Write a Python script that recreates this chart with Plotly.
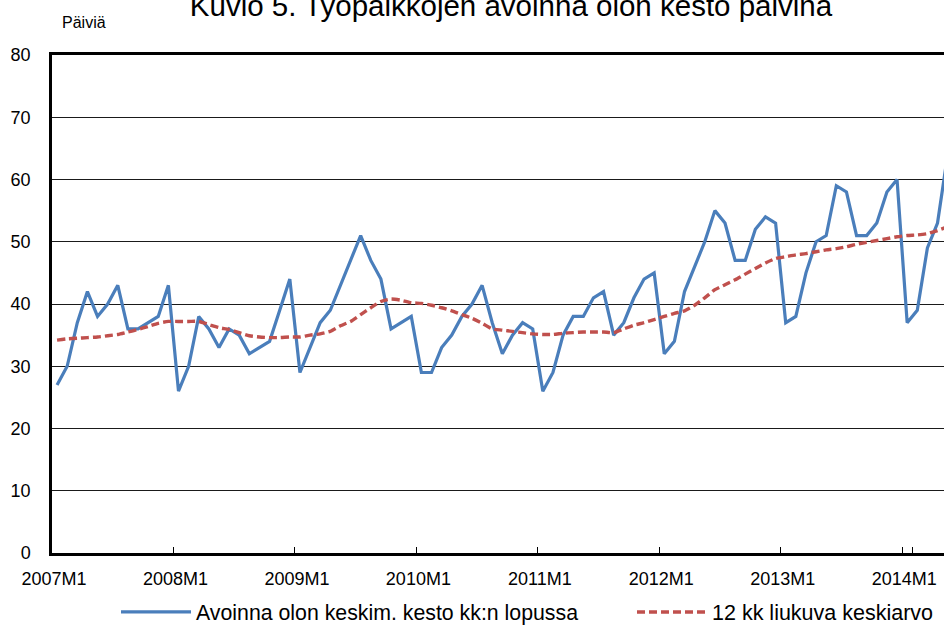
import plotly.graph_objects as go

months = [f"{y}M{m}" for y in range(2007, 2015) for m in range(1, 13)][:89]

duration = [27, 30, 37, 42, 38, 40, 43, 36, 36, 37, 38, 43,
            26, 30, 38, 36, 33, 36, 35, 32, 33, 34, 39, 44,
            29, 33, 37, 39, 43, 47, 51, 47, 44, 36, 37, 38,
            29, 29, 33, 35, 38, 40, 43, 37, 32, 35, 37, 36,
            26, 29, 35, 38, 38, 41, 42, 35, 37, 41, 44, 45,
            32, 34, 42, 46, 50, 55, 53, 47, 47, 52, 54, 53,
            37, 38, 45, 50, 51, 59, 58, 51, 51, 53, 58, 60,
            37, 39, 49, 53, 64]

moving_avg = [34.2, 34.4, 34.5, 34.6, 34.7, 34.9, 35.1, 35.5, 35.9, 36.4, 36.9, 37.2,
              37.2, 37.2, 37.2, 36.7, 36.2, 35.9, 35.4, 34.9, 34.7, 34.6, 34.6, 34.7,
              34.7, 35.0, 35.2, 35.6, 36.5, 37.2, 38.3, 39.4, 40.4, 40.8, 40.6, 40.2,
              40.1, 39.8, 39.4, 38.9, 38.3, 37.7, 36.9, 36.0, 35.8, 35.6, 35.4, 35.2,
              35.1, 35.1, 35.3, 35.4, 35.5, 35.5, 35.5, 35.4, 36.0, 36.6, 37.0, 37.5,
              38.0, 38.5, 38.9, 39.8, 41.0, 42.3, 43.1, 43.9, 44.8, 45.7, 46.6, 47.3,
              47.6, 47.9, 48.1, 48.4, 48.7, 48.9, 49.2, 49.6, 49.9, 50.2, 50.5, 50.8,
              51.0, 51.1, 51.3, 51.8, 52.4]

tick_labels = ["2007M1", "2008M1", "2009M1", "2010M1", "2011M1", "2012M1", "2013M1", "2014M1"]
y_ticks = [0, 10, 20, 30, 40, 50, 60, 70, 80]

name_1 = "Avoinna olon keskim. kesto kk:n lopussa"
name_2 = "12 kk liukuva keskiarvo"
title_text = "Kuvio 5. Työpaikkojen avoinna olon kesto päivinä"
y_title = "Päiviä"

FONT = "Arial, Liberation Sans, sans-serif"
W, H = 944, 628
L, T = 52, 55
B = H - 553
PW, PH = W - L, H - T - B


def px_x(p):
    return (p - L) / PW


def px_y(p):
    return (H - B - p) / PH


fig = go.Figure()
fig.add_trace(go.Scatter(
    x=months, y=duration, mode="lines", name=name_1,
    line=dict(color="#4A7EBB", width=3.2), legend="legend", showlegend=True,
))
fig.add_trace(go.Scatter(
    x=months, y=moving_avg, mode="lines", name=name_2,
    line=dict(color="#C0504D", width=3.4, dash="8px,4px", shape="spline", smoothing=0.6),
    legend="legend2", showlegend=True,
))

fig.update_layout(
    width=W, height=H,
    margin=dict(l=L, r=0, t=T, b=B, pad=0, autoexpand=False),
    showlegend=True,
    plot_bgcolor="white", paper_bgcolor="white",
    font=dict(family=FONT, color="black", size=18),
    title=dict(text=title_text, font=dict(size=29.5, family=FONT, color="black"),
               x=511 / W, xanchor="center", xref="container",
               y=1 - 16 / H, yanchor="bottom", yref="container", automargin=False),
    legend=dict(visible=True, orientation="h", x=px_x(116), xanchor="left", y=px_y(612), yanchor="middle",
                font=dict(size=21.3), itemwidth=70, bgcolor="rgba(0,0,0,0)"),
    legend2=dict(visible=True, orientation="h", x=px_x(632), xanchor="left", y=px_y(612), yanchor="middle",
                 font=dict(size=21.5), itemwidth=70, bgcolor="rgba(0,0,0,0)"),
    annotations=[dict(text=y_title, x=px_x(60), y=px_y(22), xref="paper", yref="paper",
                      xanchor="left", yanchor="middle", showarrow=False,
                      font=dict(size=16, family=FONT, color="black"))],
)

fig.update_xaxes(
    type="category", range=[-0.5, 87.64], automargin=False,
    tickmode="array", tickvals=tick_labels, ticktext=tick_labels, tickangle=0,
    tickson="boundaries", ticks="inside", ticklen=6, tickcolor="black", tickwidth=1,
    showline=True, linecolor="black", linewidth=2.5, mirror=True,
    showgrid=False, ticklabelstandoff=8, ticklabelshift=-3,
    tickfont=dict(size=18),
)
fig.update_yaxes(
    range=[0, 80], tickvals=y_ticks, ticks="", automargin=False,
    showline=True, linecolor="black", linewidth=2.5,
    showgrid=True, gridcolor="#1a1a1a", gridwidth=1, zeroline=False,
    ticklabelstandoff=15, tickfont=dict(size=18),
)

# place the 944x628 figure flush with the window corner (no default page margin)
fig.write_html(
    "out.html",
    config={"displayModeBar": False},
    post_script="document.body.style.margin='0';document.documentElement.style.overflow='hidden';",
)
